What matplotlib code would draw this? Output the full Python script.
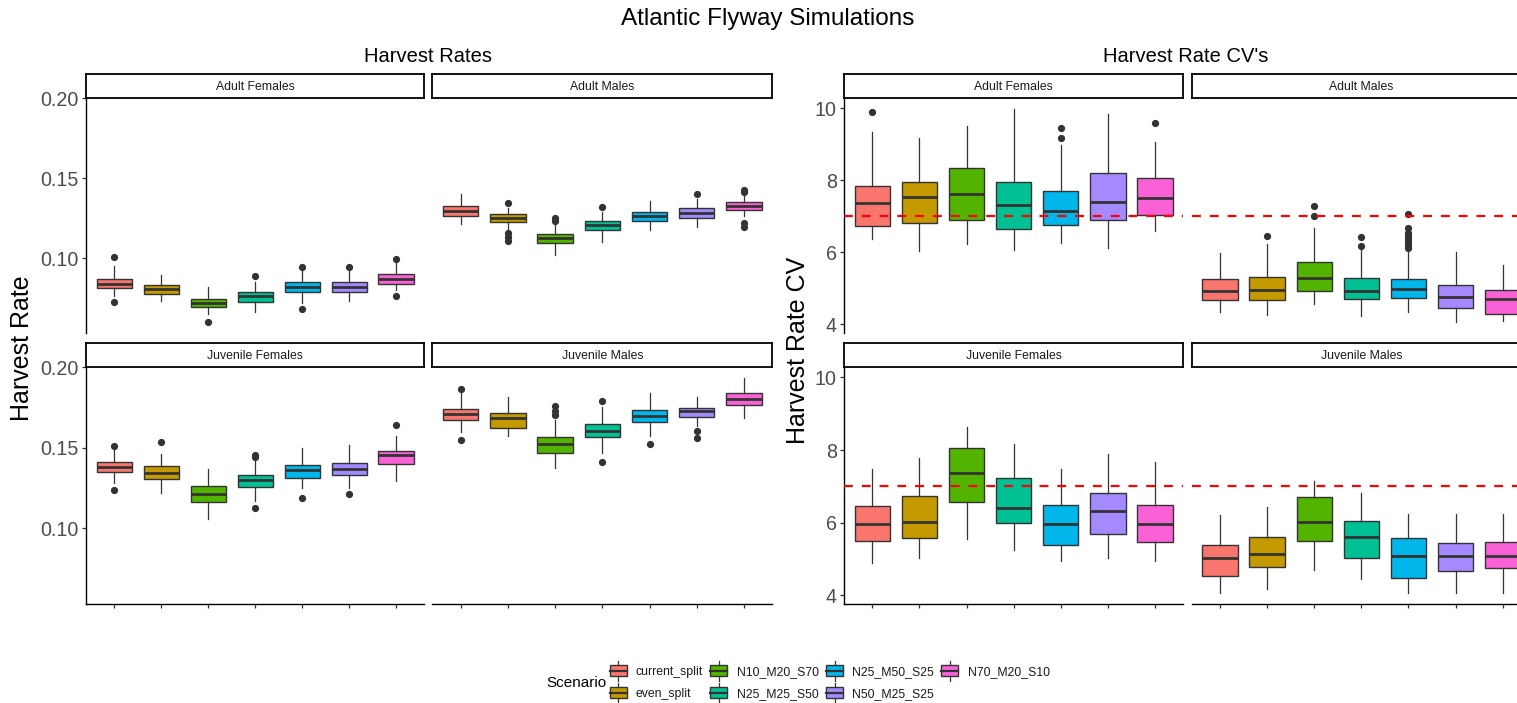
import matplotlib
matplotlib.use('Agg')
import matplotlib.pyplot as plt
from matplotlib.patches import Rectangle, Patch
from matplotlib.lines import Line2D
from matplotlib.legend_handler import HandlerBase

plt.rcParams['font.family'] = ['Liberation Sans', 'DejaVu Sans']

# ---------------- data ----------------
scenarios = ['current_split', 'even_split', 'N10_M20_S70', 'N25_M25_S50',
             'N25_M50_S25', 'N50_M25_S25', 'N70_M20_S10']
colors = ['#F8766D', '#C49A00', '#53B400', '#00C094', '#00B6EB', '#A58AFF', '#FB61D7']
facets = ['Adult Females', 'Adult Males', 'Juvenile Females', 'Juvenile Males']

# Harvest rates: one list per facet (AF, AM, JF, JM), one value per scenario
hr_q1 = [[0.0815, 0.0775, 0.0695, 0.0726, 0.0788, 0.0788, 0.0839],
         [0.1266, 0.1227, 0.1095, 0.1177, 0.1233, 0.1252, 0.1301],
         [0.1349, 0.1304, 0.1166, 0.1255, 0.1312, 0.1331, 0.1401],
         [0.1672, 0.1621, 0.1469, 0.1565, 0.1660, 0.1691, 0.1767]]
hr_med = [[0.0841, 0.0804, 0.0722, 0.0761, 0.0819, 0.0819, 0.0872],
          [0.1297, 0.1250, 0.1124, 0.1206, 0.1264, 0.1285, 0.1328],
          [0.1380, 0.1345, 0.1214, 0.1302, 0.1362, 0.1370, 0.1454],
          [0.1709, 0.1683, 0.1524, 0.1607, 0.1697, 0.1726, 0.1806]]
hr_q3 = [[0.0870, 0.0829, 0.0747, 0.0786, 0.0848, 0.0848, 0.0899],
         [0.1324, 0.1274, 0.1153, 0.1235, 0.1291, 0.1311, 0.1351],
         [0.1413, 0.1388, 0.1261, 0.1331, 0.1393, 0.1405, 0.1483],
         [0.1742, 0.1718, 0.1565, 0.1648, 0.1734, 0.1749, 0.1843]]
hr_lo = [[0.0763, 0.0732, 0.0650, 0.0660, 0.0722, 0.0732, 0.0800],
         [0.1213, 0.1175, 0.1021, 0.1103, 0.1175, 0.1196, 0.1264],
         [0.1284, 0.1222, 0.1057, 0.1170, 0.1253, 0.1253, 0.1294],
         [0.1596, 0.1572, 0.1376, 0.1469, 0.1576, 0.1633, 0.1685]]
hr_hi = [[0.0949, 0.0893, 0.0819, 0.0850, 0.0918, 0.0918, 0.0969],
         [0.1402, 0.1316, 0.1206, 0.1289, 0.1357, 0.1371, 0.1392],
         [0.1485, 0.1465, 0.1370, 0.1428, 0.1500, 0.1516, 0.1576],
         [0.1843, 0.1818, 0.1674, 0.1751, 0.1843, 0.1818, 0.1932]]
hr_out = [[[0.1004, 0.0726], [], [0.0598], [0.0885], [0.0942, 0.0681], [0.0942], [0.0994, 0.0761]],
          [[], [0.1344, 0.1155, 0.1130, 0.1107], [0.1252, 0.1231], [0.1318], [], [0.1400],
           [0.1427, 0.1412, 0.1221, 0.1196]],
          [[0.1514, 0.1236], [0.1535], [], [0.1458, 0.1444, 0.1127], [0.1191], [0.1216], [0.1642]],
          [[0.1864, 0.1551], [], [0.1761, 0.1726, 0.1705], [0.1788, 0.1413], [0.1526],
           [0.1602, 0.1559], []]]

# Harvest rate CVs
cv_q1 = [[6.74, 6.82, 6.90, 6.65, 6.76, 6.91, 7.05],
         [4.67, 4.67, 4.94, 4.70, 4.73, 4.45, 4.30],
         [5.49, 5.57, 6.57, 6.00, 5.40, 5.69, 5.46],
         [4.54, 4.77, 5.51, 5.02, 4.49, 4.66, 4.75]]
cv_med = [[7.36, 7.53, 7.62, 7.31, 7.16, 7.41, 7.51],
          [4.93, 4.96, 5.28, 4.93, 4.99, 4.77, 4.70],
          [5.96, 6.02, 7.38, 6.41, 5.96, 6.33, 5.96],
          [5.04, 5.14, 6.01, 5.62, 5.08, 5.08, 5.08]]
cv_q3 = [[7.85, 7.96, 8.34, 7.96, 7.71, 8.20, 8.07],
         [5.25, 5.31, 5.74, 5.30, 5.27, 5.10, 4.96],
         [6.46, 6.74, 8.06, 7.22, 6.48, 6.82, 6.50],
         [5.40, 5.60, 6.71, 6.05, 5.57, 5.43, 5.46]]
cv_lo = [[6.38, 6.04, 6.24, 6.07, 6.27, 6.12, 6.59],
         [4.34, 4.26, 4.58, 4.23, 4.35, 4.06, 4.09],
         [4.88, 5.02, 5.56, 5.25, 4.96, 5.02, 4.94],
         [4.08, 4.18, 4.71, 4.46, 4.06, 4.08, 4.06]]
cv_hi = [[9.33, 9.18, 9.50, 9.98, 8.98, 9.84, 9.07],
         [5.98, 6.24, 6.68, 6.12, 6.05, 6.00, 5.66],
         [7.48, 7.77, 8.62, 8.16, 7.48, 7.90, 7.67],
         [6.21, 6.43, 7.14, 6.82, 6.25, 6.23, 6.23]]
cv_out = [[[9.89], [], [], [], [9.45, 9.17], [], [9.60]],
          [[], [6.46], [7.28, 7.00], [6.42, 6.19],
           [7.06, 6.68, 6.55, 6.45, 6.36, 6.28, 6.20, 6.12], [], []],
          [[], [], [], [], [], [], []],
          [[], [], [], [], [], [], []]]
cv_target = 7.0

# ---------------- layout ----------------
W, H = 1517, 703
fig = plt.figure(figsize=(W / 100, H / 100), dpi=100)
fig.patch.set_facecolor('white')


def fx(px):
    return px / W


def fy(py):
    return 1 - py / H


DARK = '#333333'
rows_px = [(98.3, 333.0), (367.3, 604.0)]
strips_px = [(74.0, 98.3), (343.0, 367.3)]
left_cols = [(86.0, 424.3), (432.3, 772.3)]
right_cols = [(844.0, 1183.3), (1191.7, 1531.0)]


def ylims(lo, hi, out):
    vals = [v for f in lo for v in f] + [v for f in hi for v in f] + \
           [v for f in out for g in f for v in g]
    mn, mx = min(vals), max(vals)
    r = mx - mn
    return mn - 0.05 * r, mx + 0.05 * r


def draw_group(cols, q1, med, q3, lo, hi, out, yticks, ylabels, ylim, hline=None):
    for i, name in enumerate(facets):
        r, c = divmod(i, 2)
        x0, x1 = cols[c]
        y0, y1 = rows_px[r]
        ax = fig.add_axes([fx(x0), fy(y1), (x1 - x0) / W, (y1 - y0) / H])
        stats = []
        for k in range(len(scenarios)):
            stats.append(dict(med=med[i][k], q1=q1[i][k], q3=q3[i][k],
                              whislo=lo[i][k], whishi=hi[i][k], fliers=out[i][k]))
        bp = ax.bxp(stats, positions=list(range(1, len(scenarios) + 1)), widths=0.75,
                    patch_artist=True, showcaps=False,
                    boxprops=dict(edgecolor=DARK, linewidth=1.0),
                    medianprops=dict(color=DARK, linewidth=2.0, solid_capstyle='butt'),
                    whiskerprops=dict(color=DARK, linewidth=0.9),
                    flierprops=dict(marker='o', markerfacecolor=DARK, markeredgecolor=DARK,
                                    markersize=4.2, linestyle='none'))
        for patch, col in zip(bp['boxes'], colors):
            patch.set_facecolor(col)
        if hline is not None:
            ax.axhline(hline, color='red', linewidth=1.6, linestyle=(0, (4, 4)), zorder=5)
        ax.set_xlim(0.4, len(scenarios) + 0.6)
        ax.set_ylim(*ylim)
        ax.set_yticks(yticks)
        ax.set_yticklabels(ylabels)
        ax.set_xticks(list(range(1, len(scenarios) + 1)))
        ax.set_xticklabels([])
        for s in ['top', 'right']:
            ax.spines[s].set_visible(False)
        ax.spines['left'].set_visible(c == 0)
        ax.spines['bottom'].set_visible(r == 1)
        for s in ['left', 'bottom']:
            ax.spines[s].set_color('black')
            ax.spines[s].set_linewidth(1.0)
        ax.tick_params(axis='y', length=3 if c == 0 else 0, width=0.9, color=DARK,
                       labelsize=14.2, labelcolor='#4d4d4d', pad=2.2,
                       labelleft=(c == 0))
        ax.tick_params(axis='x', length=3 if r == 1 else 0, width=0.9, color=DARK)
        ax.patch.set_alpha(0)
        # strip
        sy0, sy1 = strips_px[r]
        sax = fig.add_axes([fx(x0), fy(sy1), (x1 - x0) / W, (sy1 - sy0) / H])
        sax.set_xticks([])
        sax.set_yticks([])
        for s in sax.spines.values():
            s.set_color('black')
            s.set_linewidth(1.3)
        sax.text(0.5, 0.45, name, ha='center', va='center', fontsize=8.8,
                 color='#1a1a1a', transform=sax.transAxes)


hr_ylim = ylims(hr_lo, hr_hi, hr_out)
cv_ylim = ylims(cv_lo, cv_hi, cv_out)

draw_group(left_cols, hr_q1, hr_med, hr_q3, hr_lo, hr_hi, hr_out,
           [0.10, 0.15, 0.20], ['0.10', '0.15', '0.20'], hr_ylim)
draw_group(right_cols, cv_q1, cv_med, cv_q3, cv_lo, cv_hi, cv_out,
           [4, 6, 8, 10], ['4', '6', '8', '10'], cv_ylim, hline=cv_target)

# titles and labels
fig.text(fx(768), fy(19), 'Atlantic Flyway Simulations', ha='center', va='center',
         fontsize=17.5, color='black')
fig.text(fx(428), fy(57), 'Harvest Rates', ha='center', va='center', fontsize=14.5,
         color='black')
fig.text(fx(1186), fy(57), "Harvest Rate CV's", ha='center', va='center', fontsize=14.5,
         color='black')
fig.text(fx(22), fy(348), 'Harvest Rate', ha='center', va='center', rotation=90,
         fontsize=18, color='black')
fig.text(fx(798), fy(350), 'Harvest Rate CV', ha='center', va='center', rotation=90,
         fontsize=18, color='black')


# legend
class BoxHandler(HandlerBase):
    def create_artists(self, legend, orig_handle, xdescent, ydescent, width, height,
                       fontsize, trans):
        fc = orig_handle.get_facecolor()
        cx = -xdescent + width / 2
        cy = -ydescent + height / 2
        bw = width * 1.0
        bh = height * 0.62
        rect = Rectangle((cx - bw / 2, cy - bh / 2), bw, bh, facecolor=fc,
                         edgecolor=DARK, linewidth=1.0, transform=trans)
        med = Line2D([cx - bw / 2, cx + bw / 2], [cy, cy], color=DARK, linewidth=1.6,
                     transform=trans)
        w1 = Line2D([cx, cx], [cy + bh / 2, -ydescent + height * 1.08], color=DARK,
                    linewidth=0.9, transform=trans)
        w2 = Line2D([cx, cx], [-ydescent - height * 0.08, cy - bh / 2], color=DARK,
                    linewidth=0.9, transform=trans)
        return [w1, w2, rect, med]


handles = [Patch(facecolor=c) for c in colors]
fig.legend(handles, scenarios, handler_map={Patch: BoxHandler()}, ncol=4,
           loc='upper left', bbox_to_anchor=(fx(609.5), fy(662)), frameon=False,
           fontsize=8.8, handlelength=1.4, handleheight=1.85, handletextpad=0.75,
           columnspacing=0.6, labelspacing=0.35, borderpad=0, borderaxespad=0,
           labelcolor='#1a1a1a')
fig.text(fx(546), fy(683), 'Scenario', ha='left', va='center', fontsize=11,
         color='black')

fig.savefig('out.png', dpi=100, facecolor='white')
